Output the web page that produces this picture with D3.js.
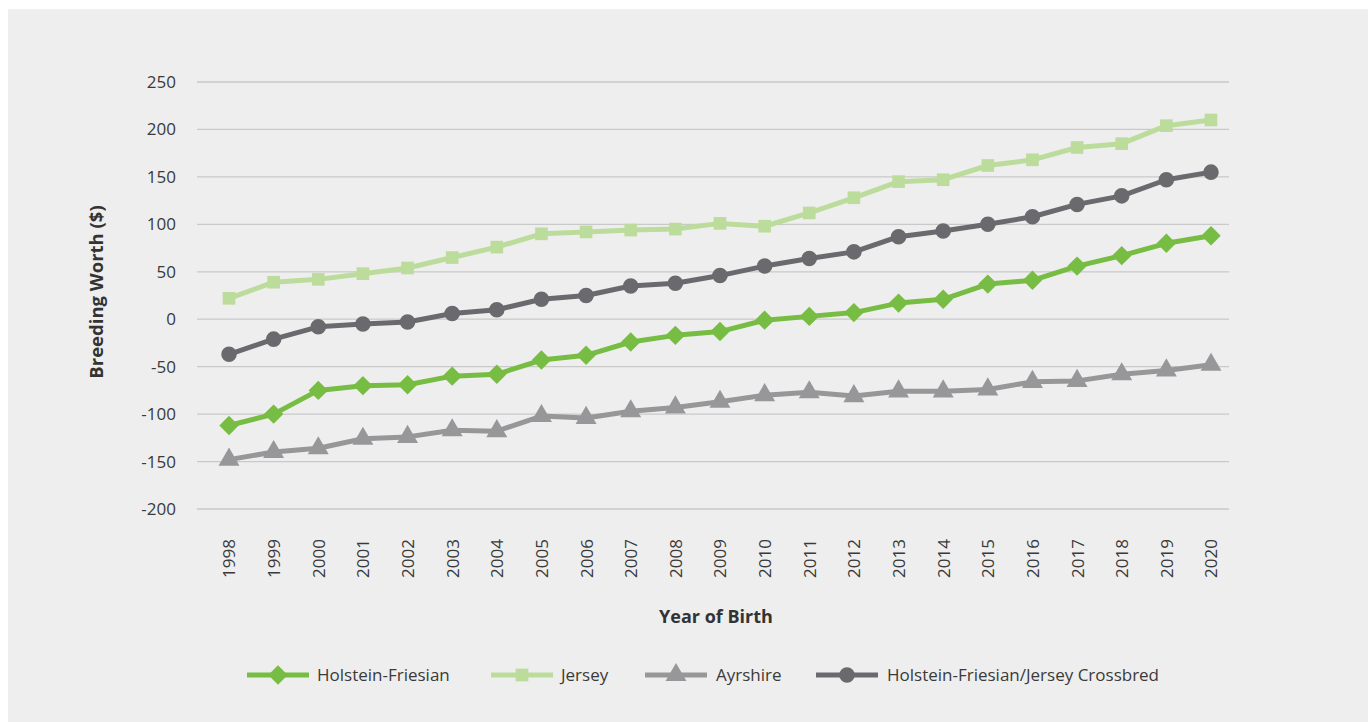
<!DOCTYPE html>
<html>
<head>
<meta charset="utf-8">
<script src="https://cdn.jsdelivr.net/npm/d3@7"></script>
<style>
  html, body { margin: 0; padding: 0; background: #fff; }
  svg { display: block; }
</style>
</head>
<body>
<div id="chart"></div>
<script>
// Breeding Worth by year of birth, four breeds
var years = ["1998","1999","2000","2001","2002","2003","2004","2005","2006","2007","2008",
             "2009","2010","2011","2012","2013","2014","2015","2016","2017","2018","2019","2020"];

var holsteinFriesian = [-112,-100,-75,-70,-69,-60,-58,-43,-38,-24,-17,-13,-1,3,7,17,21,37,41,56,67,80,88];
var jersey           = [22,39,42,48,54,65,76,90,92,94,95,101,98,112,128,145,147,162,168,181,185,204,210];
var ayrshire         = [-148,-140,-136,-126,-124,-117,-118,-102,-104,-97,-93,-87,-80,-77,-81,-76,-76,-74,-66,-65,-58,-54,-48];
var crossbred        = [-37,-21,-8,-5,-3,6,10,21,25,35,38,46,56,64,71,87,93,100,108,121,130,147,155];

var yTicks = [-200,-150,-100,-50,0,50,100,150,200,250];

var seriesNames  = ["Holstein-Friesian", "Jersey", "Ayrshire", "Holstein-Friesian/Jersey Crossbred"];
var seriesValues = [holsteinFriesian, jersey, ayrshire, crossbred];
var seriesColors = ["#77bc43", "#bcdc9c", "#97979a", "#6a6a6e"];
var seriesSymbols = [d3.symbolDiamond2, d3.symbolSquare, d3.symbolTriangle, d3.symbolCircle];

var W = 1368, H = 722;
var font = "'Open Sans', 'Noto Sans', sans-serif";
var textColor = "#3a3a3a";

var svg = d3.select("#chart").append("svg")
    .attr("width", W)
    .attr("height", H)
    .style("font-family", font);

// panel background
svg.append("rect")
    .attr("x", 8).attr("y", 9)
    .attr("width", W - 8).attr("height", H - 9)
    .attr("fill", "#eeeeee");

var gridLeft = 197, gridRight = 1229;

var x = d3.scalePoint()
    .domain(years)
    .range([229, 1211]);

var y = d3.scaleLinear()
    .domain([-200, 250])
    .range([509, 82]);

// --- Grid lines ---
svg.append("g")
    .attr("class", "grid")
    .selectAll("line")
    .data(yTicks)
    .join("line")
    .attr("x1", gridLeft).attr("x2", gridRight)
    .attr("y1", function(d) { return y(d); })
    .attr("y2", function(d) { return y(d); })
    .attr("stroke", "#c9c9c9")
    .attr("stroke-width", 1.3);

// --- Y axis ---
var yAxis = svg.append("g")
    .attr("transform", "translate(" + (gridLeft - 15) + ",0)")
    .call(d3.axisLeft(y).tickValues(yTicks).tickSize(0).tickPadding(6)
        .tickFormat(function(d) { return String(d); }));
yAxis.select(".domain").remove();
yAxis.selectAll("text")
    .style("font-family", font)
    .style("font-size", "17px")
    .style("fill", textColor);

// --- X axis (rotated labels) ---
var xAxis = svg.append("g")
    .attr("transform", "translate(0,531)")
    .call(d3.axisBottom(x).tickSize(0).tickPadding(0));
xAxis.select(".domain").remove();
xAxis.selectAll("text")
    .attr("transform", "rotate(-90)")
    .attr("x", -8)
    .attr("y", 0)
    .attr("dy", "0.35em")
    .attr("text-anchor", "end")
    .style("font-family", font)
    .style("font-size", "17px")
    .style("fill", textColor);

// --- Axis titles ---
svg.append("text")
    .attr("transform", "translate(103,292) rotate(-90)")
    .attr("text-anchor", "middle")
    .style("font-size", "18.5px")
    .style("font-weight", "bold")
    .style("fill", "#333")
    .text("Breeding Worth ($)");

svg.append("text")
    .attr("x", 716)
    .attr("y", 623)
    .attr("text-anchor", "middle")
    .style("font-size", "18px")
    .style("font-weight", "bold")
    .style("fill", "#333")
    .text("Year of Birth");

// --- Lines and markers ---
var lineGen = d3.line()
    .x(function(d, i) { return x(years[i]); })
    .y(function(d) { return y(d); });

var symSizes = [240, 160, 190, 190];

seriesValues.forEach(function(vals, s) {
    var g = svg.append("g").attr("class", "series");
    g.append("path")
        .datum(vals)
        .attr("fill", "none")
        .attr("stroke", seriesColors[s])
        .attr("stroke-width", 5)
        .attr("stroke-linejoin", "round")
        .attr("d", lineGen);

    g.selectAll("path.marker")
        .data(vals)
        .join("path")
        .attr("class", "marker")
        .attr("transform", function(d, i) {
            return "translate(" + x(years[i]) + "," + y(d) + ")";
        })
        .attr("d", d3.symbol().type(seriesSymbols[s]).size(symSizes[s]))
        .attr("fill", seriesColors[s]);
});

// --- Legend ---
var legendItems = [
    { x: 247, textX: 317 },
    { x: 491, textX: 561 },
    { x: 645, textX: 716 },
    { x: 816, textX: 887 }
];

var legend = svg.append("g").attr("class", "legend");
seriesNames.forEach(function(name, s) {
    var lg = legend.append("g")
        .attr("transform", "translate(" + legendItems[s].x + ",675)");
    lg.append("line")
        .attr("x1", 0).attr("x2", 62)
        .attr("y1", 0).attr("y2", 0)
        .attr("stroke", seriesColors[s])
        .attr("stroke-width", 5);
    lg.append("path")
        .attr("transform", "translate(31,0)")
        .attr("d", d3.symbol().type(seriesSymbols[s]).size(symSizes[s]))
        .attr("fill", seriesColors[s]);
    lg.append("text")
        .attr("x", legendItems[s].textX - legendItems[s].x)
        .attr("y", 0)
        .attr("dy", "0.35em")
        .style("font-size", "17px")
        .style("fill", textColor)
        .text(name);
});
</script>
</body>
</html>
